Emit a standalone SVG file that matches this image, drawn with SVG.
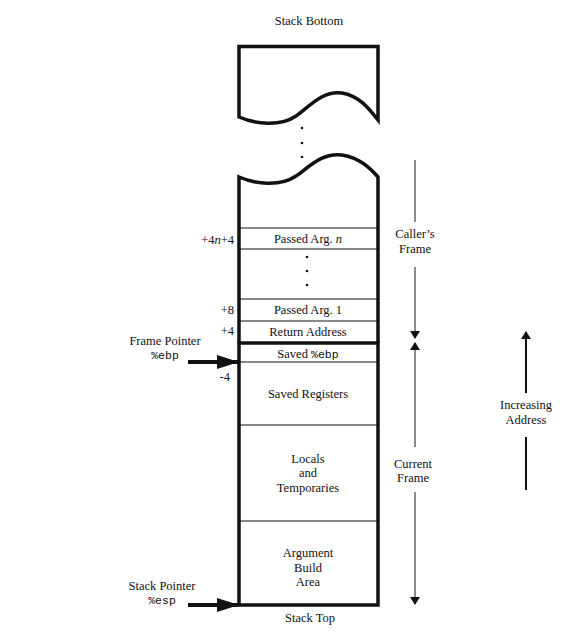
<svg xmlns="http://www.w3.org/2000/svg" width="580" height="632" viewBox="0 0 580 632">
<style>
text{font-family:"Liberation Serif","Times New Roman",serif;font-size:12.5px;fill:#111}
.m{font-family:"Liberation Mono","Courier New",monospace;font-size:11.5px}
.c{text-anchor:middle}
.r{text-anchor:end}
.thick{fill:none;stroke:#111;stroke-width:3.5}
.thin{fill:none;stroke:#111;stroke-width:1.2}
.gray{fill:none;stroke:#666;stroke-width:1.5}
</style>
<defs>
<marker id="hd" markerWidth="8" markerHeight="12" refX="7" refY="6" orient="auto" markerUnits="userSpaceOnUse">
<path d="M0,1 L8,6 L0,11 Z" fill="#111"/>
</marker>
<marker id="bp" markerWidth="22" markerHeight="14" refX="21" refY="7" orient="auto" markerUnits="userSpaceOnUse">
<path d="M0,0 L22,7 L0,14 Z" fill="#111"/>
</marker>
</defs>
<rect width="580" height="632" fill="#fff"/>
<text class="c" x="309" y="25">Stack Bottom</text>

<g id="stack-bottom">
<path class="thick" d="M239,117 V46.5 H378 V120 C370,110 360,96 342,93 C322,90 308,108 296,116 C280,127 255,124 239,117 Z" fill="#fff"/>
<circle cx="302" cy="128" r="1.3" fill="#111"/>
<circle cx="302" cy="143" r="1.3" fill="#111"/>
<circle cx="302" cy="157" r="1.3" fill="#111"/>
</g>

<g id="caller-frame">
<path class="thick" d="M239,343 V177 C255,184 280,187 296,176 C308,168 322,152 342,155 C360,158 370,168 378,177 V343"/>
<line class="thin" x1="239" y1="228" x2="378" y2="228"/>
<line class="thin" x1="239" y1="249" x2="378" y2="249"/>
<line class="thin" x1="239" y1="299" x2="378" y2="299"/>
<line class="thin" x1="239" y1="321" x2="378" y2="321"/>
<text class="c" x="308" y="243">Passed Arg.  <tspan font-style="italic">n</tspan></text>
<circle cx="307" cy="257" r="1.3" fill="#111"/>
<circle cx="307" cy="271" r="1.3" fill="#111"/>
<circle cx="307" cy="285" r="1.3" fill="#111"/>
<text class="c" x="308" y="314">Passed Arg.  1</text>
<text class="c" x="308" y="336">Return Address</text>
<text class="r" x="234" y="244">+4<tspan font-style="italic">n</tspan>+4</text>
<text class="r" x="234" y="314">+8</text>
<text class="r" x="234" y="335">+4</text>
</g>

<g id="current-frame">
<rect class="thick" x="239" y="343" width="139" height="262"/>
<line class="thin" x1="239" y1="362" x2="378" y2="362"/>
<line class="thin" x1="239" y1="425" x2="378" y2="425"/>
<line class="thin" x1="239" y1="521" x2="378" y2="521"/>
<text class="c" x="308" y="358">Saved <tspan class="m">%ebp</tspan></text>
<text class="c" x="308" y="398">Saved Registers</text>
<text class="c" x="308" y="463">Locals</text>
<text class="c" x="308" y="477">and</text>
<text class="c" x="308" y="492">Temporaries</text>
<text class="c" x="308" y="557">Argument</text>
<text class="c" x="308" y="572">Build</text>
<text class="c" x="308" y="586">Area</text>
<text class="r" x="230" y="381">-4</text>
</g>

<g id="frame-pointer">
<text class="c" x="165" y="345">Frame Pointer</text>
<text class="c m" x="165" y="359">%ebp</text>
</g>
<g id="stack-pointer">
<text class="c" x="162" y="590">Stack Pointer</text>
<text class="c m" x="162" y="604">%esp</text>
</g>
<text class="c" x="310" y="622">Stack  Top</text>

<g id="labels-right">
<text class="c" x="415" y="238">Caller’s</text>
<text class="c" x="415" y="253">Frame</text>
<text class="c" x="413" y="468">Current</text>
<text class="c" x="413" y="482">Frame</text>
<text class="c" x="526" y="409">Increasing</text>
<text class="c" x="526" y="424">Address</text>
</g>

<g id="connectors">
<line x1="188" y1="362" x2="238" y2="362" stroke="#111" stroke-width="4" marker-end="url(#bp)"/>
<line x1="188" y1="605" x2="238" y2="605" stroke="#111" stroke-width="4" marker-end="url(#bp)"/>
<line class="gray" x1="415" y1="160" x2="415" y2="222"/>
<line class="gray" x1="415" y1="267" x2="415" y2="338" marker-end="url(#hd)"/>
<line class="gray" x1="415" y1="447" x2="415" y2="343" marker-end="url(#hd)"/>
<line class="gray" x1="415" y1="492" x2="415" y2="604" marker-end="url(#hd)"/>
<line x1="526" y1="393" x2="526" y2="332" stroke="#111" stroke-width="2" marker-end="url(#hd)"/>
<line x1="526" y1="437" x2="526" y2="490" stroke="#111" stroke-width="2"/>
</g>
</svg>
